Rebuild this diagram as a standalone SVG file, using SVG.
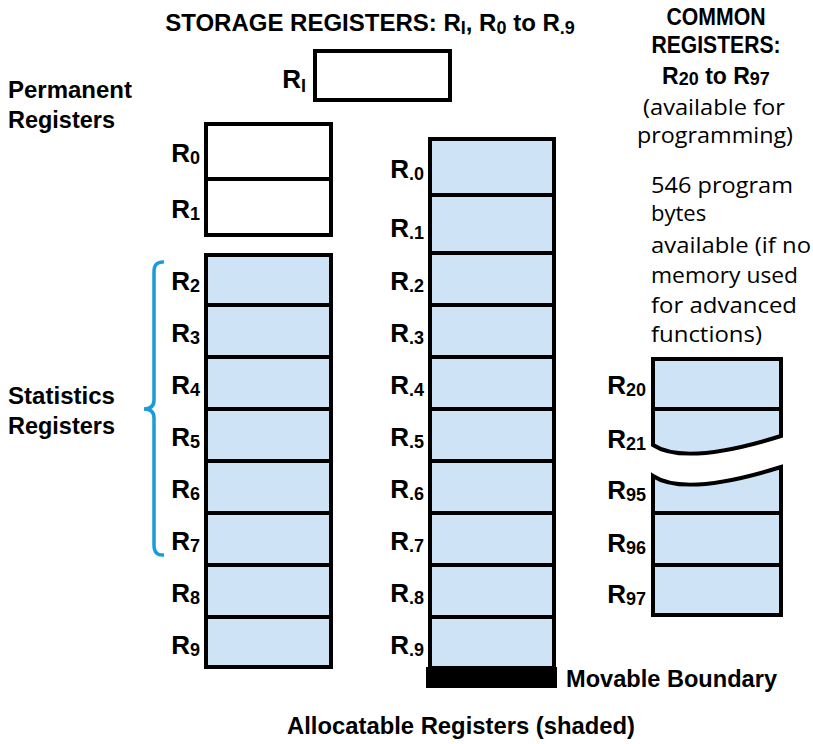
<svg xmlns="http://www.w3.org/2000/svg" width="813" height="744" viewBox="0 0 813 744">
<style>
.b{font-family:"Liberation Sans",Arial,sans-serif;font-weight:bold;fill:#000}
.r{font-family:"Open Sans","Noto Sans",sans-serif;fill:#000}
.lbl{font-family:"Liberation Sans",Arial,sans-serif;font-weight:bold;font-size:26px;text-anchor:end;fill:#000}
.sub{font-size:18px}
.cell{fill:#cee3f6;stroke:#000;stroke-width:4}
.wcell{fill:#fff;stroke:#000;stroke-width:4}
.div{stroke:#000;stroke-width:4;fill:none}
</style>
<rect width="813" height="744" fill="#fff"/>

<g id="title">
<text class="b" x="370" y="31" font-size="24" text-anchor="middle">STORAGE REGISTERS: R<tspan class="sub" dy="3">I</tspan><tspan dy="-3">, R</tspan><tspan class="sub" dy="3">0</tspan><tspan dy="-3"> to R</tspan><tspan class="sub" dy="3">.9</tspan></text>
</g>

<g id="common-title">
<text class="b" x="716" y="25" font-size="23" text-anchor="middle" textLength="99" lengthAdjust="spacingAndGlyphs">COMMON</text>
<text class="b" x="716" y="53" font-size="23" text-anchor="middle" textLength="129" lengthAdjust="spacingAndGlyphs">REGISTERS:</text>
<text class="b" x="716" y="84" font-size="23" text-anchor="middle">R<tspan class="sub" dy="1">20</tspan><tspan dy="-1"> to R</tspan><tspan class="sub" dy="1">97</tspan></text>
<text class="r" x="714" y="115" font-size="22" text-anchor="middle" textLength="142" lengthAdjust="spacingAndGlyphs">(available for</text>
<text class="r" x="715" y="143" font-size="22" text-anchor="middle" textLength="156" lengthAdjust="spacingAndGlyphs">programming)</text>
</g>

<g id="program-bytes-note">
<text class="r" x="651" y="193" font-size="22" textLength="142" lengthAdjust="spacingAndGlyphs">546 program</text>
<text class="r" x="651" y="221" font-size="22">bytes</text>
<text class="r" x="651" y="253" font-size="22" textLength="160" lengthAdjust="spacingAndGlyphs">available (if no</text>
<text class="r" x="651" y="283" font-size="22" textLength="147" lengthAdjust="spacingAndGlyphs">memory used</text>
<text class="r" x="651" y="313" font-size="22" textLength="146" lengthAdjust="spacingAndGlyphs">for advanced</text>
<text class="r" x="651" y="342" font-size="22" textLength="111" lengthAdjust="spacingAndGlyphs">functions)</text>
</g>

<g id="permanent-label">
<text class="b" x="8" y="98" font-size="23" textLength="124" lengthAdjust="spacingAndGlyphs">Permanent</text>
<text class="b" x="8" y="128" font-size="23" textLength="107" lengthAdjust="spacingAndGlyphs">Registers</text>
</g>

<g id="statistics-label">
<text class="b" x="8" y="404" font-size="23" textLength="107" lengthAdjust="spacingAndGlyphs">Statistics</text>
<text class="b" x="8" y="434" font-size="23" textLength="107" lengthAdjust="spacingAndGlyphs">Registers</text>
</g>

<g id="brace">
<path d="M164,262 Q154,261 154,272 L154,400 Q154,409 144,409 Q154,409 154,418 L154,545 Q154,556 164,555" fill="none" stroke="#1b9bd7" stroke-width="3.5"/>
</g>

<g id="RI">
<rect class="wcell" x="315" y="51" width="135" height="49"/>
<text class="lbl" x="306" y="88">R<tspan class="sub" dy="4">I</tspan></text>
</g>

<g id="R0"><rect class="wcell" x="206" y="124" width="125" height="55"/><text class="lbl" x="200" y="162">R<tspan class="sub" dy="2">0</tspan></text></g>
<g id="R1"><rect class="wcell" x="206" y="179" width="125" height="56"/><text class="lbl" x="200" y="218">R<tspan class="sub" dy="2">1</tspan></text></g>
<g id="R2"><rect class="cell" x="206" y="255" width="125" height="50"/><text class="lbl" x="200" y="290">R<tspan class="sub" dy="2">2</tspan></text></g>
<g id="R3"><rect class="cell" x="206" y="305" width="125" height="52"/><text class="lbl" x="200" y="342">R<tspan class="sub" dy="2">3</tspan></text></g>
<g id="R4"><rect class="cell" x="206" y="357" width="125" height="52"/><text class="lbl" x="200" y="394">R<tspan class="sub" dy="2">4</tspan></text></g>
<g id="R5"><rect class="cell" x="206" y="409" width="125" height="52"/><text class="lbl" x="200" y="446">R<tspan class="sub" dy="2">5</tspan></text></g>
<g id="R6"><rect class="cell" x="206" y="461" width="125" height="52"/><text class="lbl" x="200" y="498">R<tspan class="sub" dy="2">6</tspan></text></g>
<g id="R7"><rect class="cell" x="206" y="513" width="125" height="52"/><text class="lbl" x="200" y="550">R<tspan class="sub" dy="2">7</tspan></text></g>
<g id="R8"><rect class="cell" x="206" y="565" width="125" height="52"/><text class="lbl" x="200" y="602">R<tspan class="sub" dy="2">8</tspan></text></g>
<g id="R9"><rect class="cell" x="206" y="617" width="125" height="50"/><text class="lbl" x="200" y="654">R<tspan class="sub" dy="2">9</tspan></text></g>

<g id="Rd0"><rect class="cell" x="430" y="139" width="124" height="56"/><text class="lbl" x="424" y="178">R<tspan class="sub" dy="2">.0</tspan></text></g>
<g id="Rd1"><rect class="cell" x="430" y="195" width="124" height="58"/><text class="lbl" x="424" y="237">R<tspan class="sub" dy="2">.1</tspan></text></g>
<g id="Rd2"><rect class="cell" x="430" y="253" width="124" height="52"/><text class="lbl" x="424" y="290">R<tspan class="sub" dy="2">.2</tspan></text></g>
<g id="Rd3"><rect class="cell" x="430" y="305" width="124" height="52"/><text class="lbl" x="424" y="342">R<tspan class="sub" dy="2">.3</tspan></text></g>
<g id="Rd4"><rect class="cell" x="430" y="357" width="124" height="52"/><text class="lbl" x="424" y="394">R<tspan class="sub" dy="2">.4</tspan></text></g>
<g id="Rd5"><rect class="cell" x="430" y="409" width="124" height="52"/><text class="lbl" x="424" y="446">R<tspan class="sub" dy="2">.5</tspan></text></g>
<g id="Rd6"><rect class="cell" x="430" y="461" width="124" height="52"/><text class="lbl" x="424" y="498">R<tspan class="sub" dy="2">.6</tspan></text></g>
<g id="Rd7"><rect class="cell" x="430" y="513" width="124" height="52"/><text class="lbl" x="424" y="550">R<tspan class="sub" dy="2">.7</tspan></text></g>
<g id="Rd8"><rect class="cell" x="430" y="565" width="124" height="52"/><text class="lbl" x="424" y="602">R<tspan class="sub" dy="2">.8</tspan></text></g>
<g id="Rd9"><rect class="cell" x="430" y="617" width="124" height="51"/><text class="lbl" x="424" y="654">R<tspan class="sub" dy="2">.9</tspan></text></g>

<g id="movable-boundary">
<rect x="426" y="667" width="131" height="21" fill="#000"/>
<text class="b" x="566" y="687" font-size="24" textLength="211" lengthAdjust="spacingAndGlyphs">Movable Boundary</text>
</g>

<g id="common-upper">
<path class="cell" d="M653,359 L781,359 L781,436 Q685,466 653,445 Z"/>
<line class="div" x1="653" y1="409" x2="781" y2="409"/>
<text class="lbl" x="646" y="394">R<tspan class="sub" dy="2">20</tspan></text>
<text class="lbl" x="646" y="448">R<tspan class="sub" dy="2">21</tspan></text>
</g>

<g id="common-lower">
<path class="cell" d="M653,476 Q685,497 781,467 L781,615 L653,615 Z"/>
<line class="div" x1="653" y1="513" x2="781" y2="513"/>
<line class="div" x1="653" y1="565" x2="781" y2="565"/>
<text class="lbl" x="646" y="499">R<tspan class="sub" dy="2">95</tspan></text>
<text class="lbl" x="646" y="552">R<tspan class="sub" dy="2">96</tspan></text>
<text class="lbl" x="646" y="603">R<tspan class="sub" dy="2">97</tspan></text>
</g>

<g id="footer">
<text class="b" x="287" y="734" font-size="24" textLength="348" lengthAdjust="spacingAndGlyphs">Allocatable Registers (shaded)</text>
</g>
</svg>
